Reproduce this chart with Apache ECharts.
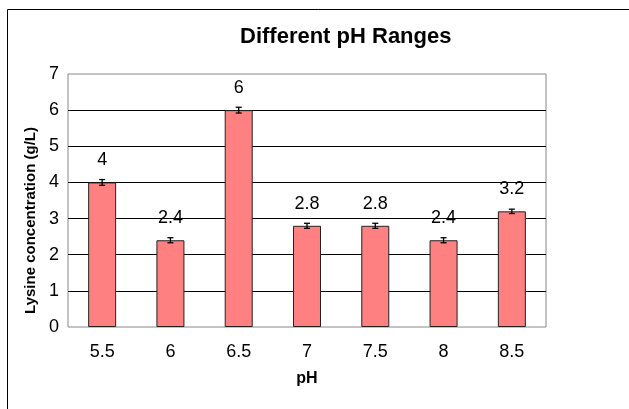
<!DOCTYPE html>
<html>
<head>
<meta charset="utf-8">
<title>Different pH Ranges</title>
<script src="https://cdn.jsdelivr.net/npm/echarts@6/dist/echarts.min.js"></script>
</head>
<body style="margin:0">
<div id="main" style="width:629px;height:409px;"></div>
<script type="text/javascript">
var phLevels = ['5.5', '6', '6.5', '7', '7.5', '8', '8.5'];
var lysine = [4, 2.4, 6, 2.8, 2.8, 2.4, 3.2];
var errors = [0.08, 0.07, 0.08, 0.07, 0.07, 0.07, 0.06];

var chart = echarts.init(document.getElementById('main'));

var errData = lysine.map(function (v, i) {
  return [i, v - errors[i], v + errors[i]];
});

var option = {
  animation: false,
  backgroundColor: '#fff',
  title: {
    text: 'Different pH Ranges',
    left: 235,
    top: 21,
    textStyle: { fontFamily: 'Liberation Sans', fontSize: 22, fontWeight: 'bold', color: '#000' }
  },
  graphic: [{
    type: 'rect',
    shape: { x: 7.5, y: 9.5, width: 700, height: 500 },
    style: { fill: 'none', stroke: '#000', lineWidth: 1 },
    silent: true
  }],
  grid: {
    left: 68, right: 83, top: 74, bottom: 82,
    show: true, borderColor: '#888', borderWidth: 1
  },
  xAxis: {
    type: 'category',
    data: phLevels,
    name: 'pH',
    nameLocation: 'middle',
    nameGap: 44,
    nameTextStyle: { fontFamily: 'Liberation Sans', fontSize: 16, fontWeight: 'bold', color: '#000' },
    axisLine: { show: false },
    axisTick: { show: false },
    axisLabel: { fontFamily: 'Liberation Sans', fontSize: 18, color: '#000', margin: 16 }
  },
  yAxis: {
    type: 'value',
    min: 0, max: 7, interval: 1,
    name: 'Lysine concentration (g/L)',
    nameLocation: 'middle',
    nameGap: 30,
    nameTextStyle: {
      fontFamily: 'Liberation Sans', fontSize: 15, fontWeight: 'bold', color: '#000',
      padding: [0, 40, 0, 0]
    },
    axisLine: { show: false },
    axisTick: { show: false },
    axisLabel: { fontFamily: 'Liberation Sans', fontSize: 18, color: '#000', margin: 9 },
    splitLine: { show: true, showMinLine: false, showMaxLine: false, lineStyle: { color: '#000', width: 1 } }
  },
  series: [{
    type: 'bar',
    data: lysine,
    barWidth: 28,
    itemStyle: { color: '#FF8080', borderColor: '#222', borderWidth: 1 },
    label: {
      show: true, position: 'top', distance: 13,
      fontFamily: 'Liberation Sans', fontSize: 18, color: '#000'
    }
  }, {
    type: 'custom',
    data: errData,
    z: 10,
    renderItem: function (params, api) {
      var x = api.value(0);
      var lo = api.coord([x, api.value(1)]);
      var hi = api.coord([x, api.value(2)]);
      var w = 3;
      var st = { stroke: '#000', lineWidth: 1.3 };
      return {
        type: 'group',
        children: [
          { type: 'line', shape: { x1: lo[0], y1: lo[1], x2: hi[0], y2: hi[1] }, style: st },
          { type: 'line', shape: { x1: lo[0] - w, y1: lo[1], x2: lo[0] + w, y2: lo[1] }, style: st },
          { type: 'line', shape: { x1: hi[0] - w, y1: hi[1], x2: hi[0] + w, y2: hi[1] }, style: st }
        ]
      };
    }
  }]
};

chart.setOption(option);
</script>
</body>
</html>
